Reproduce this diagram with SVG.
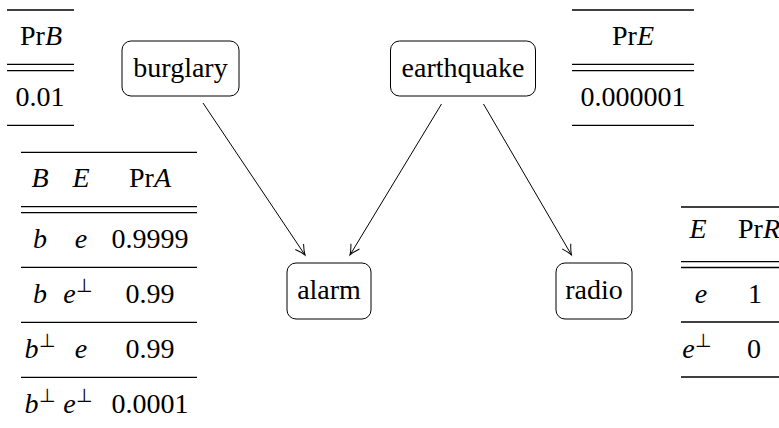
<svg xmlns="http://www.w3.org/2000/svg" width="779" height="428" viewBox="0 0 779 428">
<defs>
<style>
text{font-family:'Liberation Serif',serif;font-size:28px;fill:#000;text-anchor:middle}
.i{font-style:italic}
.sup{font-size:19px;font-style:normal}
.rule{stroke:#000;stroke-width:1.3;fill:none}
.node rect{fill:#fff;stroke:#000;stroke-width:1}
.edge{stroke:#000;stroke-width:1;fill:none;marker-end:url(#arr)}
</style>
<marker id="arr" markerUnits="userSpaceOnUse" viewBox="-12 -7 14 14" markerWidth="14" markerHeight="14" refX="0" refY="0" orient="auto">
<path d="M-10,-5 Q-4,-1.2 0,0 Q-4,1.2 -10,5" fill="none" stroke="#000" stroke-width="1"/>
</marker>
</defs>

<g id="table-prb">
<line class="rule" x1="7" y1="10" x2="74" y2="10"/>
<line class="rule" x1="7" y1="64.3" x2="74" y2="64.3"/>
<line class="rule" x1="7" y1="70.7" x2="74" y2="70.7"/>
<line class="rule" x1="7" y1="125.3" x2="74" y2="125.3"/>
<text x="41" y="45">Pr<tspan class="i">B</tspan></text>
<text x="40" y="106">0.01</text>
</g>

<g id="table-pre">
<line class="rule" x1="572" y1="10" x2="694" y2="10"/>
<line class="rule" x1="572" y1="64.3" x2="694" y2="64.3"/>
<line class="rule" x1="572" y1="70.7" x2="694" y2="70.7"/>
<line class="rule" x1="572" y1="125.3" x2="694" y2="125.3"/>
<text x="633" y="45">Pr<tspan class="i">E</tspan></text>
<text x="633" y="106">0.000001</text>
</g>

<g id="table-pra">
<line class="rule" x1="21" y1="152.3" x2="197" y2="152.3"/>
<line class="rule" x1="21" y1="206.7" x2="197" y2="206.7"/>
<line class="rule" x1="21" y1="212.7" x2="197" y2="212.7"/>
<line class="rule" x1="21" y1="267.3" x2="197" y2="267.3"/>
<line class="rule" x1="21" y1="322.3" x2="197" y2="322.3"/>
<line class="rule" x1="21" y1="377.3" x2="197" y2="377.3"/>
<text class="i" x="40" y="187">B</text>
<text class="i" x="81" y="187">E</text>
<text x="150" y="187">Pr<tspan class="i">A</tspan></text>
<text class="i" x="40" y="248">b</text>
<text class="i" x="81" y="248">e</text>
<text x="150" y="248">0.9999</text>
<text class="i" x="40" y="303">b</text>
<text x="78" y="303"><tspan class="i">e</tspan><tspan class="sup" dy="-11">⊥</tspan></text>
<text x="150" y="303">0.99</text>
<text x="40" y="358"><tspan class="i">b</tspan><tspan class="sup" dy="-11">⊥</tspan></text>
<text class="i" x="81" y="358">e</text>
<text x="150" y="358">0.99</text>
<text x="40" y="413"><tspan class="i">b</tspan><tspan class="sup" dy="-11">⊥</tspan></text>
<text x="78" y="413"><tspan class="i">e</tspan><tspan class="sup" dy="-11">⊥</tspan></text>
<text x="150" y="413">0.0001</text>
</g>

<g id="table-prr">
<line class="rule" x1="681" y1="207" x2="779" y2="207"/>
<line class="rule" x1="681" y1="261.7" x2="779" y2="261.7"/>
<line class="rule" x1="681" y1="267.5" x2="779" y2="267.5"/>
<line class="rule" x1="681" y1="322" x2="779" y2="322"/>
<line class="rule" x1="681" y1="377" x2="779" y2="377"/>
<text class="i" x="698" y="238">E</text>
<text x="759" y="238">Pr<tspan class="i">R</tspan></text>
<text class="i" x="701" y="303">e</text>
<text x="755" y="303">1</text>
<text x="697" y="358"><tspan class="i">e</tspan><tspan class="sup" dy="-11">⊥</tspan></text>
<text x="754" y="358">0</text>
</g>

<g id="connectors">
<line class="edge" x1="203" y1="103" x2="305" y2="255"/>
<line class="edge" x1="441.5" y1="104" x2="350" y2="255"/>
<line class="edge" x1="483.5" y1="104" x2="571.5" y2="255"/>
</g>

<g id="burglary" class="node">
<rect x="122" y="41" width="117" height="55" rx="9"/>
<text x="180.5" y="77">burglary</text>
</g>
<g id="earthquake" class="node">
<rect x="390.5" y="41" width="145" height="55" rx="9"/>
<text x="463" y="77">earthquake</text>
</g>
<g id="alarm" class="node">
<rect x="287" y="263" width="84" height="56" rx="9"/>
<text x="329" y="299">alarm</text>
</g>
<g id="radio" class="node">
<rect x="556" y="263" width="76" height="56" rx="9"/>
<text x="594" y="299">radio</text>
</g>
</svg>
